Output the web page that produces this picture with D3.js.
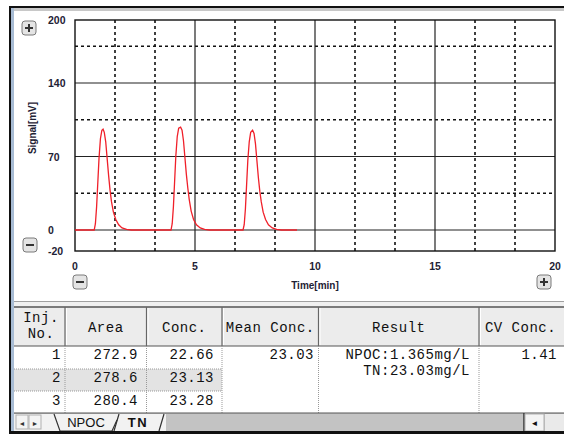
<!DOCTYPE html>
<html>
<head>
  <meta charset="utf-8">
  <title>TOC Signal</title>
  <script src="https://d3js.org/d3.v7.min.js"></script>
  <style>
    body { margin: 0; background: #fff; }
    svg { display: block; }
  </style>
</head>
<body>

  <svg width="564" height="438"></svg>

  <script>

    // Chart data
    const xTicks = [0, 5, 10, 15, 20];
    const xMinor = [5 / 3, 10 / 3, 20 / 3, 25 / 3, 35 / 3, 40 / 3, 50 / 3, 55 / 3];
    const yTicks = [-20, 0, 70, 140, 200];
    const yMajor = [0, 70, 140];
    const yMinor = [35, 105, 175];

    // Detector trace (time in min, signal in mV)
    const traceTime = [0, 0.80, 0.85, 0.90, 0.95, 1.00, 1.06, 1.12, 1.17, 1.22, 1.28, 1.34, 1.40, 1.46, 1.52, 1.60, 1.70, 1.82, 1.96, 2.15, 2.35,
      4.00, 4.05, 4.10, 4.15, 4.20, 4.26, 4.32, 4.40, 4.46, 4.52, 4.58, 4.64, 4.70, 4.76, 4.84, 4.94, 5.06, 5.22, 5.40, 5.60,
      7.00, 7.05, 7.10, 7.15, 7.20, 7.26, 7.32, 7.40, 7.46, 7.52, 7.58, 7.64, 7.70, 7.76, 7.84, 7.94, 8.06, 8.22, 8.40, 8.60, 9.25];
    const traceSignal = [0, 0, 6, 22, 45, 68, 87, 95, 96, 93, 84, 68, 52, 38, 27, 17, 10, 5, 2, 0.5, 0,
      0, 6, 22, 46, 70, 89, 97, 98, 95, 85, 69, 53, 40, 29, 18, 10, 5, 2, 0.5, 0,
      0, 5, 20, 43, 66, 84, 93, 95, 92, 82, 66, 50, 37, 27, 17, 10, 5, 2, 0.5, 0, 0];

    // Table data
    const columns = ["Inj.\nNo.", "Area", "Conc.", "Mean Conc.", "Result", "CV Conc."];
    const injNo = ["1", "2", "3"];
    const areas = ["272.9", "278.6", "280.4"];
    const concs = ["22.66", "23.13", "23.28"];
    const meanConc = "23.03";
    const results = ["NPOC:1.365mg/L", "TN:23.03mg/L"];
    const cvConc = "1.41";
    const tabs = ["NPOC", "TN"];

    const svg = d3.select("svg");

    // Window frame
    svg.append("rect").attr("x", 10).attr("y", 7).attr("width", 560).attr("height", 426)
      .attr("fill", "#f0f0f0").attr("stroke", "#111").attr("stroke-width", 2);
    svg.append("rect").attr("x", 11).attr("y", 8).attr("width", 560).attr("height", 3).attr("fill", "#c8c8c8");
    svg.append("rect").attr("x", 11).attr("y", 8).attr("width", 3).attr("height", 424).attr("fill", "#a8bcd4");

    // Chart panel
    svg.append("rect").attr("x", 14).attr("y", 11).attr("width", 556).attr("height", 290).attr("fill", "#fff");
    svg.append("line").attr("x1", 14).attr("x2", 564).attr("y1", 301.5).attr("y2", 301.5)
      .attr("stroke", "#a0a0a0");

    // Scales
    const x = d3.scaleLinear().domain([0, 20]).range([75, 555]);
    const y = d3.scaleLinear().domain([-20, 200]).range([251, 20]);

    const plot = svg.append("g");

    // Dashed minor grid
    plot.selectAll(".vminor").data(xMinor).enter().append("line")
      .attr("x1", d => x(d)).attr("x2", d => x(d)).attr("y1", y(200)).attr("y2", y(-20))
      .attr("stroke", "#111").attr("stroke-width", 1.6).attr("stroke-dasharray", "3,3");
    plot.selectAll(".hminor").data(yMinor).enter().append("line")
      .attr("x1", x(0)).attr("x2", x(20)).attr("y1", d => y(d)).attr("y2", d => y(d))
      .attr("stroke", "#111").attr("stroke-width", 1.6).attr("stroke-dasharray", "3,3");

    // Solid major grid
    plot.selectAll(".vmajor").data([5, 10, 15]).enter().append("line")
      .attr("x1", d => x(d)).attr("x2", d => x(d)).attr("y1", y(200)).attr("y2", y(-20))
      .attr("stroke", "#222").attr("stroke-width", 1.2);
    plot.selectAll(".hmajor").data(yMajor).enter().append("line")
      .attr("x1", x(0)).attr("x2", x(20)).attr("y1", d => y(d)).attr("y2", d => y(d))
      .attr("stroke", "#222").attr("stroke-width", 1.2);

    plot.append("rect")
      .attr("x", x(0)).attr("y", y(200)).attr("width", x(20) - x(0)).attr("height", y(-20) - y(200))
      .attr("fill", "none").attr("stroke", "#111").attr("stroke-width", 1.4);

    // Trace
    const trace = traceTime.map((t, i) => [t, traceSignal[i]]);
    plot.append("path")
      .datum(trace)
      .attr("fill", "none")
      .attr("stroke", "#f0202a")
      .attr("stroke-width", 1.3)
      .attr("d", d3.line().x(d => x(d[0])).y(d => y(d[1])));

    // Axis labels
    const labelFont = "'Liberation Sans', Arial, sans-serif";
    plot.selectAll(".ylab").data(yTicks).enter().append("text")
      .attr("x", 48).attr("y", d => y(d) + 4)
      .attr("font-family", labelFont).attr("font-size", 10.5).attr("font-weight", "bold")
      .attr("fill", "#1e2235")
      .text(d => d);
    plot.selectAll(".xlab").data(xTicks).enter().append("text")
      .attr("x", d => x(d)).attr("y", 270).attr("text-anchor", "middle")
      .attr("font-family", labelFont).attr("font-size", 10.5).attr("font-weight", "bold")
      .attr("fill", "#1e2235")
      .text(d => d);
    plot.append("text")
      .attr("x", x(10)).attr("y", 289).attr("text-anchor", "middle")
      .attr("font-family", labelFont).attr("font-size", 10).attr("font-weight", "bold")
      .attr("fill", "#1e2235").text("Time[min]");
    plot.append("text")
      .attr("transform", "translate(36,128) rotate(-90)").attr("text-anchor", "middle")
      .attr("font-family", labelFont).attr("font-size", 10).attr("font-weight", "bold")
      .attr("fill", "#1e2235").text("Signal[mV]");

    // Zoom buttons
    const buttons = [
      { cx: 29, cy: 28, sign: "+" },
      { cx: 30, cy: 245, sign: "-" },
      { cx: 80, cy: 282, sign: "-" },
      { cx: 544, cy: 282, sign: "+" }
    ];
    const btn = svg.selectAll(".btn").data(buttons).enter().append("g")
      .attr("transform", d => `translate(${d.cx},${d.cy})`);
    btn.append("rect").attr("x", -7).attr("y", -7).attr("width", 14).attr("height", 14).attr("rx", 3)
      .attr("fill", "#e4e4e4").attr("stroke", "#7a7a7a");
    btn.append("line").attr("x1", -4).attr("x2", 4).attr("y1", 0).attr("y2", 0)
      .attr("stroke", "#333").attr("stroke-width", 2);
    btn.filter(d => d.sign === "+").append("line").attr("x1", 0).attr("x2", 0).attr("y1", -4).attr("y2", 4)
      .attr("stroke", "#333").attr("stroke-width", 2);

    // Table
    const mono = "'Liberation Mono', 'DejaVu Sans Mono', monospace";
    const colX = [14, 65, 146.5, 222, 318.5, 479, 570];
    const headTop = 307, headBot = 346;
    const rowY = [346, 369, 391, 413];
    const table = svg.append("g");

    table.append("rect").attr("x", 14).attr("y", headTop).attr("width", 556).attr("height", 413 - headTop)
      .attr("fill", "#fff");
    table.append("rect").attr("x", 14).attr("y", headTop).attr("width", 556).attr("height", headBot - headTop)
      .attr("fill", "#ececec");
    // Shaded second row
    table.append("rect").attr("x", colX[0]).attr("y", rowY[1]).attr("width", colX[3] - colX[0])
      .attr("height", rowY[2] - rowY[1]).attr("fill", "#e3e3e3");

    // Header borders
    table.append("line").attr("x1", 14).attr("x2", 570).attr("y1", headTop).attr("y2", headTop)
      .attr("stroke", "#555").attr("stroke-width", 1.5);
    table.append("line").attr("x1", 14).attr("x2", 570).attr("y1", headBot).attr("y2", headBot)
      .attr("stroke", "#555").attr("stroke-width", 1.2);
    table.selectAll(".hsep").data(colX.slice(1, 6)).enter().append("line")
      .attr("x1", d => d).attr("x2", d => d).attr("y1", headTop).attr("y2", headBot)
      .attr("stroke", "#666").attr("stroke-width", 1.2);
    table.selectAll(".hhi").data(colX.slice(1, 6)).enter().append("line")
      .attr("x1", d => d + 1.5).attr("x2", d => d + 1.5).attr("y1", headTop + 1).attr("y2", headBot - 1)
      .attr("stroke", "#fff");

    // Dotted body grid
    table.selectAll(".bsep").data(colX.slice(1, 6)).enter().append("line")
      .attr("x1", d => d).attr("x2", d => d).attr("y1", headBot).attr("y2", rowY[3])
      .attr("stroke", "#999").attr("stroke-dasharray", "1,1");
    table.selectAll(".rsep").data(rowY.slice(1, 3)).enter().append("line")
      .attr("x1", colX[0]).attr("x2", colX[3]).attr("y1", d => d).attr("y2", d => d)
      .attr("stroke", "#999").attr("stroke-dasharray", "1,1");

    // Header text
    const headCenters = columns.map((c, i) => (colX[i] + Math.min(colX[i + 1], 562)) / 2);
    columns.forEach((c, i) => {
      const lines = c.split("\n");
      lines.forEach((ln, j) => {
        table.append("text")
          .attr("x", i === 0 ? 41 : headCenters[i])
          .attr("y", lines.length > 1 ? 322 + j * 16 : 332)
          .attr("text-anchor", "middle")
          .attr("font-family", mono).attr("font-size", 14).attr("letter-spacing", 0.5)
          .attr("fill", "#111").text(ln);
      });
    });

    // Body text
    const baseY = [359, 382, 405];
    const cells = [];
    injNo.forEach((v, i) => cells.push({ x: 61, y: baseY[i], t: v }));
    areas.forEach((v, i) => cells.push({ x: 138, y: baseY[i], t: v }));
    concs.forEach((v, i) => cells.push({ x: 214, y: baseY[i], t: v }));
    cells.push({ x: 314, y: baseY[0], t: meanConc });
    cells.push({ x: 470, y: baseY[0], t: results[0] });
    cells.push({ x: 470, y: 375, t: results[1] });
    cells.push({ x: 557, y: baseY[0], t: cvConc });
    table.selectAll(".cell").data(cells).enter().append("text")
      .attr("x", d => d.x).attr("y", d => d.y).attr("text-anchor", "end")
      .attr("font-family", mono).attr("font-size", 14).attr("letter-spacing", 0.5)
      .attr("fill", "#111").text(d => d.t);

    // Tab bar
    const tabBar = svg.append("g");
    tabBar.append("rect").attr("x", 14).attr("y", 413).attr("width", 556).attr("height", 18)
      .attr("fill", "#c3c3c3");
    tabBar.append("line").attr("x1", 14).attr("x2", 570).attr("y1", 413).attr("y2", 413)
      .attr("stroke", "#555");
    tabBar.append("rect").attr("x", 14).attr("y", 414).attr("width", 152).attr("height", 17).attr("fill", "#f2f2f2");
    [[16, "◄"], [29, "►"]].forEach(([bx, s]) => {
      tabBar.append("rect").attr("x", bx).attr("y", 415).attr("width", 12).attr("height", 14)
        .attr("fill", "#f4f4f4").attr("stroke", "#b0b0b0");
      tabBar.append("text").attr("x", bx + 6).attr("y", 425.5).attr("text-anchor", "middle")
        .attr("font-family", labelFont).attr("font-size", 7).attr("fill", "#333").text(s);
    });
    tabBar.append("path").attr("d", "M54,414 L60,431 L112,431 L117,420")
      .attr("fill", "none").attr("stroke", "#333").attr("stroke-width", 1.2);
    tabBar.append("path").attr("d", "M114,431 L119,414 M159,431 L164,414")
      .attr("fill", "none").attr("stroke", "#333").attr("stroke-width", 1.2);
    tabBar.append("text").attr("x", 86).attr("y", 427).attr("text-anchor", "middle")
      .attr("font-family", labelFont).attr("font-size", 13).attr("fill", "#111").text(tabs[0]);
    tabBar.append("text").attr("x", 138).attr("y", 427).attr("text-anchor", "middle")
      .attr("font-family", labelFont).attr("font-size", 13).attr("font-weight", "bold")
      .attr("letter-spacing", 1.5).attr("fill", "#111").text(tabs[1]);
    tabBar.append("line").attr("x1", 524).attr("x2", 524).attr("y1", 413).attr("y2", 431)
      .attr("stroke", "#333").attr("stroke-width", 1.5);
    tabBar.append("rect").attr("x", 525).attr("y", 414).attr("width", 19).attr("height", 17).attr("fill", "#f4f4f4")
      .attr("stroke", "#b0b0b0");
    tabBar.append("rect").attr("x", 545).attr("y", 414).attr("width", 25).attr("height", 17).attr("fill", "#eaeaea");
    tabBar.append("text").attr("x", 534.5).attr("y", 425.5).attr("text-anchor", "middle")
      .attr("font-family", labelFont).attr("font-size", 8).attr("fill", "#111").text("◄");
    svg.append("line").attr("x1", 10).attr("x2", 564).attr("y1", 432).attr("y2", 432)
      .attr("stroke", "#111").attr("stroke-width", 2);

  </script>

</body>
</html>
